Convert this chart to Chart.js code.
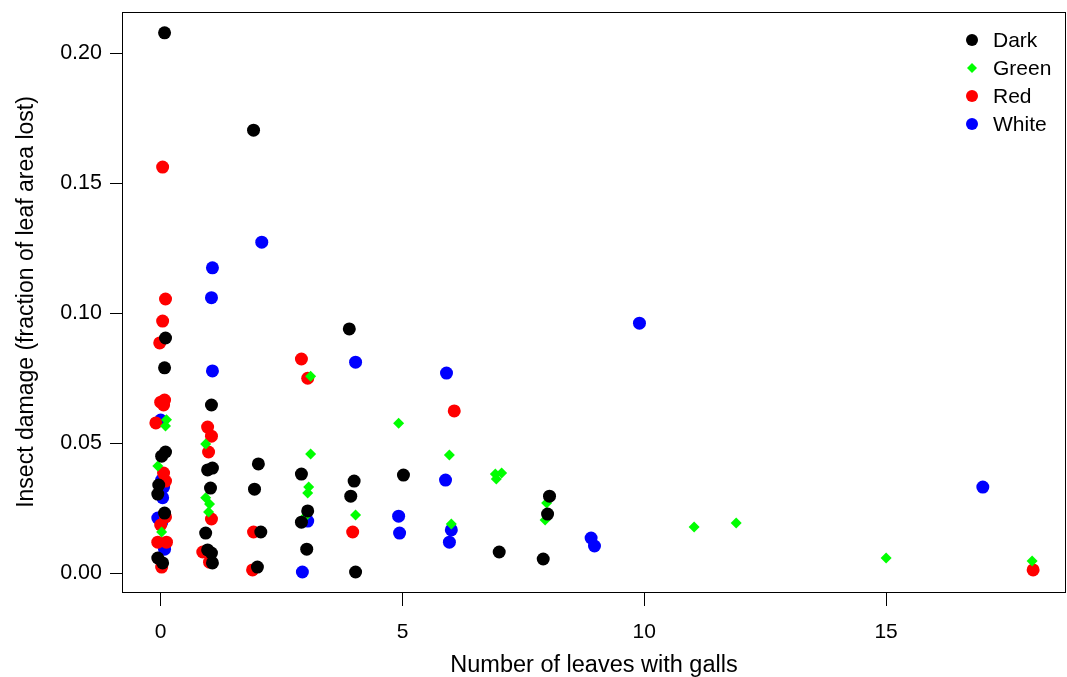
<!DOCTYPE html>
<html>
<head>
<meta charset="utf-8">
<script src="https://cdn.jsdelivr.net/npm/chart.js@4/dist/chart.umd.min.js"></script>
<style>
  html, body { margin: 0; padding: 0; background: #fff; }
  #wrap { width: 1067px; height: 677px; }
</style>
</head>
<body>
<div id="wrap"><canvas id="c" width="1067" height="677"></canvas></div>
<script>
// data (x values are jittered leaf counts)
const darkX = [0.08, 1.92, 0.10, 0.08, 3.90, 1.05, 0.10, 0.02, -0.04, -0.06, 0.08, -0.06, 0.04,
  1.07, 0.97, 1.03, 0.93, 0.97, 1.05, 1.07, 2.02, 1.94, 2.07, 2.00, 2.91, 3.04, 2.91, 3.02,
  4.00, 3.93, 4.03, 5.02, 7.00, 7.91, 8.04, 8.00];
const darkY = [0.208, 0.1705, 0.0905, 0.079, 0.094, 0.0647, 0.0466, 0.0450, 0.0339, 0.0304, 0.0231, 0.0058, 0.0039,
  0.0404, 0.0397, 0.0327, 0.0154, 0.0089, 0.0077, 0.0039, 0.042, 0.0323, 0.0158, 0.0023, 0.0381, 0.0239, 0.0196, 0.0092,
  0.0354, 0.0296, 0.0004, 0.0377, 0.0081, 0.0054, 0.0296, 0.0227];

const greenX = [0.12, 0.10, -0.06, 0.02, 0.93, 0.93, 1.01, 0.99, 3.10, 3.10, 3.06, 3.04, 2.98,
  4.03, 4.92, 5.97, 6.01, 6.92, 6.94, 7.05, 7.98, 7.95, 11.03, 11.90, 15.00, 18.02];
const greenY = [0.059, 0.0566, 0.0412, 0.0158, 0.0497, 0.029, 0.0266, 0.0235, 0.0758, 0.0458, 0.0331, 0.0308, 0.0216,
  0.0223, 0.0577, 0.0454, 0.0189, 0.0381, 0.0362, 0.0385, 0.027, 0.0204, 0.0177, 0.0193, 0.0058, 0.0046];

const redX = [0.04, 0.10, 0.04, -0.02, 0.08, 0.00, 0.06, -0.10, 0.06, 0.10, 0.10, 0.00, -0.06, 0.12, 0.02,
  0.97, 1.05, 0.99, 1.05, 0.87, 1.01, 1.92, 1.90, 2.91, 3.04, 3.97, 6.07, 18.04];
const redY = [0.1563, 0.1055, 0.097, 0.0886, 0.0666, 0.0658, 0.0647, 0.0578, 0.0385, 0.0354, 0.0216, 0.0185, 0.0119, 0.0119, 0.0023,
  0.0562, 0.0527, 0.0466, 0.0208, 0.0081, 0.0042, 0.0158, 0.0012, 0.0824, 0.075, 0.0158, 0.0624, 0.0012];

const whiteX = [0.00, 0.02, 0.06, 0.04, -0.06, 0.02, 0.08, 1.07, 1.05, 1.07, 2.09, 2.93, 3.04, 4.03,
  4.92, 4.94, 5.91, 5.89, 6.01, 5.97, 8.90, 8.97, 9.90, 17.00];
const whiteY = [0.0589, 0.0358, 0.0331, 0.029, 0.0212, 0.0196, 0.0092, 0.1175, 0.106, 0.0778, 0.1274, 0.0004, 0.02, 0.0812,
  0.0219, 0.0154, 0.077, 0.0358, 0.0166, 0.0119, 0.0135, 0.0104, 0.0962, 0.0331];

const xTicks = [0, 5, 10, 15];
const yTicks = [0, 0.05, 0.10, 0.15, 0.20];

const pts = (xs, ys) => xs.map((x, i) => ({ x: x, y: ys[i] }));
const FONT = '"Liberation Sans", Arial, sans-serif';

const boxAndLegend = {
  id: 'boxAndLegend',
  afterDraw(chart) {
    const ctx = chart.ctx, a = chart.chartArea;
    ctx.save();
    ctx.strokeStyle = '#000';
    ctx.lineWidth = 1;
    ctx.strokeRect(a.left + 0.5, a.top + 0.5, a.right - a.left - 1, a.bottom - a.top);
    // legend, top right inside the box
    ctx.font = '21px ' + FONT;
    ctx.textBaseline = 'middle';
    ctx.textAlign = 'left';
    chart.data.datasets.forEach((ds, i) => {
      const cy = 40 + i * 28, cx = 972;
      ctx.fillStyle = ds.backgroundColor;
      ctx.beginPath();
      if (ds.pointStyle === 'rectRot') {
        ctx.moveTo(cx, cy - 5); ctx.lineTo(cx + 5, cy); ctx.lineTo(cx, cy + 5); ctx.lineTo(cx - 5, cy);
        ctx.closePath();
      } else {
        ctx.arc(cx, cy, 6, 0, Math.PI * 2);
      }
      ctx.fill();
      ctx.fillStyle = '#000';
      ctx.fillText(ds.label, 993, cy + 1);
    });
    ctx.restore();
  }
};

new Chart(document.getElementById('c').getContext('2d'), {
  type: 'scatter',
  data: {
    datasets: [
      { label: 'Dark', data: pts(darkX, darkY), backgroundColor: '#000000', pointStyle: 'circle', pointRadius: 6.5 },
      { label: 'Green', data: pts(greenX, greenY), backgroundColor: '#00ff00', pointStyle: 'rectRot', pointRadius: 5.5 },
      { label: 'Red', data: pts(redX, redY), backgroundColor: '#ff0000', pointStyle: 'circle', pointRadius: 6.5 },
      { label: 'White', data: pts(whiteX, whiteY), backgroundColor: '#0000ff', pointStyle: 'circle', pointRadius: 6.5 }
    ]
  },
  options: {
    responsive: false,
    animation: false,
    layout: { autoPadding: false, padding: { top: 12, right: 1, left: 0, bottom: 0 } },
    elements: { point: { borderWidth: 0, hoverRadius: 6.5 } },
    plugins: { legend: { display: false }, tooltip: { enabled: false } },
    scales: {
      x: {
        type: 'linear',
        min: -0.8, max: 18.72,
        afterBuildTicks: s => { s.ticks = xTicks.map(v => ({ value: v })); },
        afterFit: s => { s.height = 85; s.paddingLeft = 0; s.paddingRight = 0; },
        grid: { drawOnChartArea: false, color: '#000', tickLength: 14, tickWidth: 1 },
        border: { display: false },
        ticks: { color: '#000', font: { family: FONT, size: 21 }, padding: 14, maxRotation: 0 },
        title: { display: true, text: 'Number of leaves with galls', color: '#000',
                 font: { family: FONT, size: 23.5, lineHeight: 1 }, padding: { top: 5, bottom: 0 } }
      },
      y: {
        type: 'linear',
        min: -0.0073, max: 0.216,
        afterBuildTicks: s => { s.ticks = yTicks.map(v => ({ value: v })); },
        afterFit: s => { s.width = 122; s.paddingTop = 0; s.paddingBottom = 0; },
        grid: { drawOnChartArea: false, color: '#000', tickLength: 12, tickWidth: 1 },
        border: { display: false },
        ticks: { color: '#000', font: { family: FONT, size: 21.5 }, padding: 8,
                 callback: v => v.toFixed(2) },
        title: { display: true, text: 'Insect damage (fraction of leaf area lost)', color: '#000',
                 font: { family: FONT, size: 23 }, padding: { top: 13, bottom: 0 } }
      }
    }
  },
  plugins: [boxAndLegend]
});
</script>
</body>
</html>
